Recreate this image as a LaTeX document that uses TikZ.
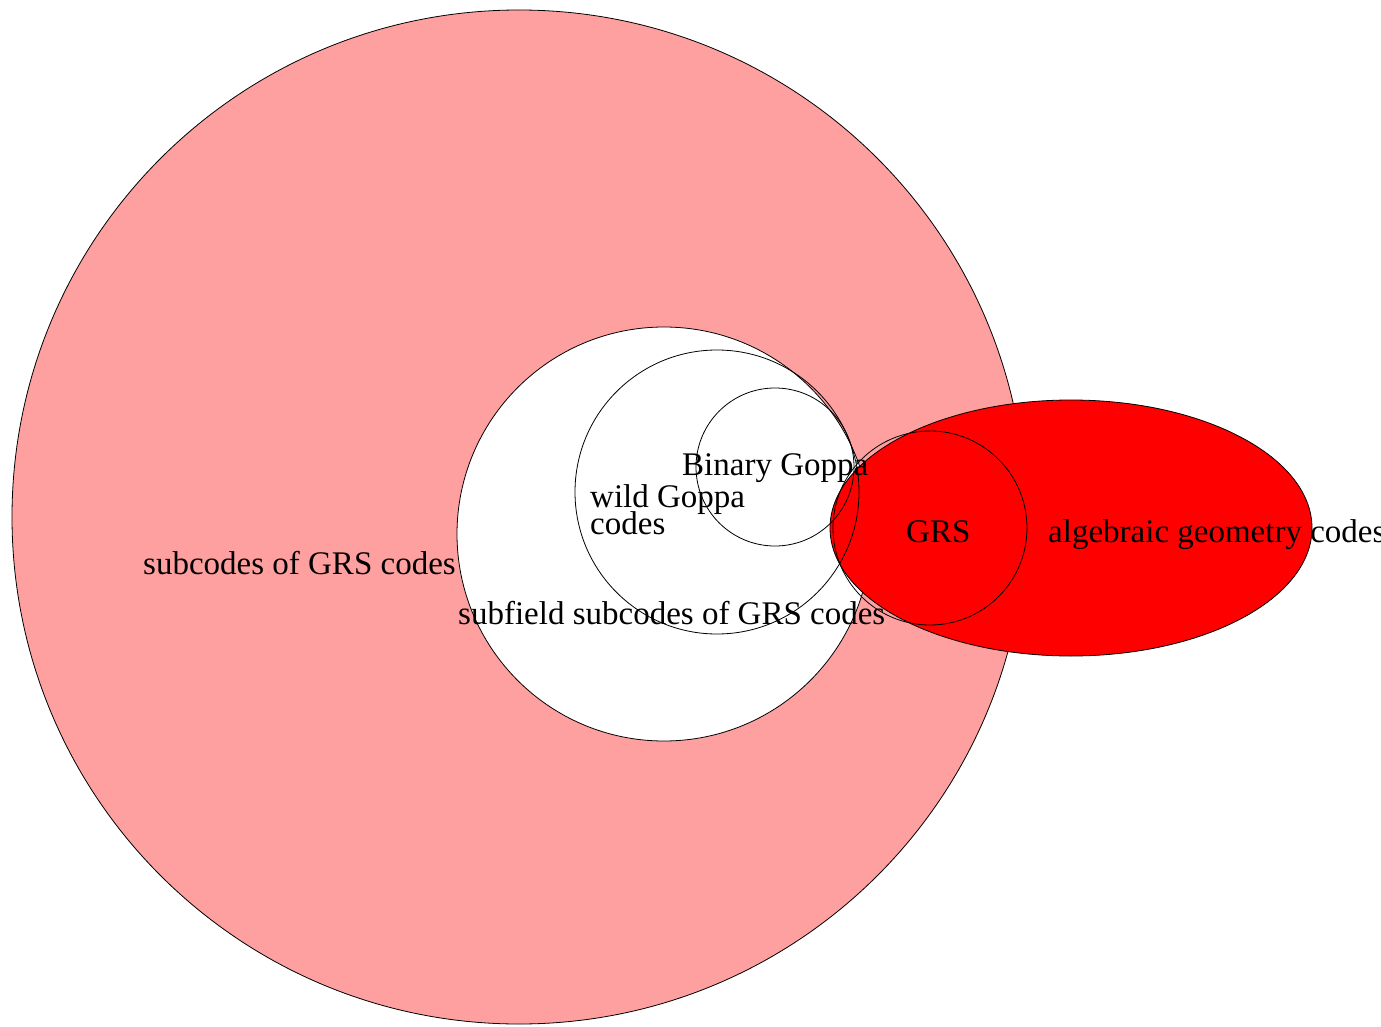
\documentclass[tikz,border=0pt]{standalone}
\usepackage{fontspec}
\setmainfont{Liberation Serif}
\definecolor{pinkfill}{RGB}{255,160,160}
\definecolor{redfill}{RGB}{255,0,0}
\newcommand{\lblfont}{\fontsize{33}{27}\selectfont\lineskiplimit=-30pt\relax}
\begin{document}
\begin{tikzpicture}[x=1pt,y=1pt,
  ring/.style={circle,draw=black,line width=0.8pt,inner sep=0pt},
  lbl/.style={inner sep=0pt,anchor=base west,font=\lblfont,align=left}]
\useasboundingbox (0,0) rectangle (1381,-1027);
\clip (0,0) rectangle (1381,-1027);
% outer: subcodes of GRS codes
\node[ring,fill=pinkfill,minimum size=1014pt] (subgrs) at (519,-517) {};
% subfield subcodes
\node[ring,fill=white,minimum size=414pt] (subfield) at (664,-534) {};
% algebraic geometry codes
\draw[fill=redfill,line width=0.8pt] (1071,-528) ellipse[x radius=241pt,y radius=128pt];
\coordinate (ag) at (1071,-528);
% wild Goppa
\node[ring,minimum size=284pt] (wild) at (717,-492) {};
% binary Goppa
\node[ring,minimum size=158pt] (binary) at (775,-467) {};
% GRS
\node[ring,minimum size=194pt] (grs) at (930,-528) {};
% labels
\node[lbl] (tsubgrs) at (143,-574) {subcodes of GRS codes};
\node[lbl] (tsubfield) at (458,-624) {subfield subcodes of GRS codes};
\node[lbl] (twild) at (590,-534) {wild Goppa\\codes};
\node[lbl] (tbinary) at (682,-475) {Binary Goppa};
\node[lbl] (tgrs) at (906,-542) {GRS};
\node[lbl] (tag) at (1048,-542) {algebraic geometry codes};
\end{tikzpicture}
\end{document}
